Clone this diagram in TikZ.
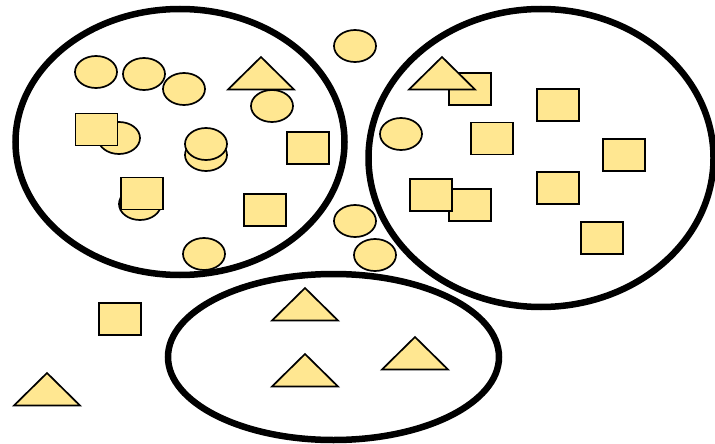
\documentclass[tikz,border=0pt]{standalone}
\usetikzlibrary{shapes.geometric}
\definecolor{shapefill}{RGB}{255,231,145}
\tikzset{
  blob/.style={ellipse,draw=black,fill=shapefill,line width=1.7pt,minimum width=42pt,minimum height=32pt,inner sep=0pt},
  box/.style={rectangle,draw=black,fill=shapefill,line width=1.7pt,minimum width=42pt,minimum height=32pt,inner sep=0pt},
  group/.style={draw=black,line width=6.5pt},
  tri/.pic={\draw[black,fill=shapefill,line width=1.7pt,line join=miter] (0,0) -- (33,32.5) -- (-33,32.5) -- cycle;}
}
\begin{document}
\begin{tikzpicture}[x=1pt,y=-1pt]
\useasboundingbox (0,0) rectangle (715,444);
% groups
\draw[group] (180,142) ellipse [x radius=164.5pt, y radius=133pt];
\draw[group] (541,158) ellipse [x radius=172.5pt, y radius=149pt];
\draw[group] (333.5,357) ellipse [x radius=165.5pt, y radius=83pt];
% left group
\node[blob] (e1) at (96,72) {};
\node[blob] (e2) at (144,74) {};
\node[blob] (e3) at (184,89) {};
\pic at (261,57) {tri};
\node[blob] (e4) at (272,106) {};
\node[blob] (e5) at (119,138) {};
\node[box] (r1) at (96.5,129.5) {};
\node[blob] (e6) at (206,155) {};
\node[blob] (e7) at (206,144) {};
\node[blob] (e8) at (140,204) {};
\node[box] (r2) at (142,193.5) {};
\node[box] (r3) at (308,148) {};
\node[box] (r4) at (265,210) {};
\node[blob] (e9) at (204,254) {};
% between
\node[blob] (e10) at (355,46) {};
\node[blob] (e11) at (401,134) {};
\node[blob] (e12) at (355,221) {};
\node[blob] (e13) at (375,255) {};
% right group
\node[box] (r5) at (470,89) {};
\pic at (442,57) {tri};
\node[box] (r6) at (558,105) {};
\node[box] (r7) at (492,138.5) {};
\node[box] (r8) at (624,155) {};
\node[box] (r9) at (470,205) {};
\node[box] (r10) at (431,195) {};
\node[box] (r11) at (558,188) {};
\node[box] (r12) at (602,238) {};
% bottom
\node[box] (r13) at (120,319) {};
\pic at (47,373) {tri};
\pic at (305,288) {tri};
\pic at (305,354) {tri};
\pic at (415,337) {tri};
\end{tikzpicture}
\end{document}
